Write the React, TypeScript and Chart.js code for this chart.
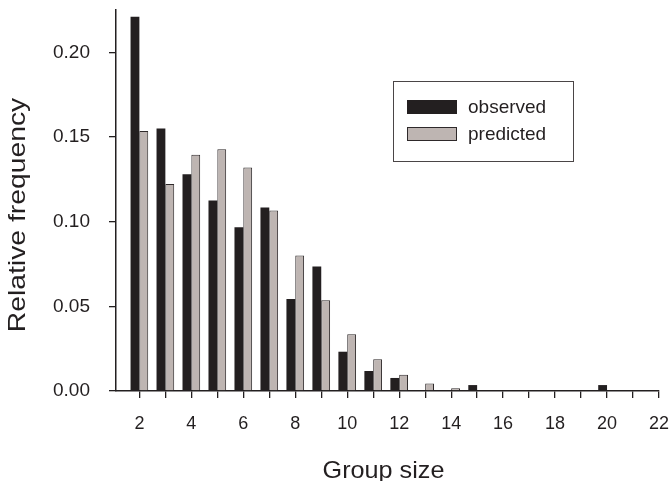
import React, { useEffect, useRef } from "react";
import { Chart, registerables } from "chart.js";

Chart.register(...registerables);

const groupSizes = [2, 3, 4, 5, 6, 7, 8, 9, 10, 11, 12, 13, 14, 15, 20];
const observed = [0.221, 0.155, 0.128, 0.1125, 0.0967, 0.1083, 0.0544, 0.0735, 0.0232, 0.0118, 0.0077, 0, 0, 0.0035, 0.0035];
const predicted = [0.1535, 0.1222, 0.1395, 0.1428, 0.132, 0.1066, 0.08, 0.0536, 0.0335, 0.0187, 0.0096, 0.0045, 0.0016, 0.0006, null];
const xTicks = [2, 3, 4, 5, 6, 7, 8, 9, 10, 11, 12, 13, 14, 15, 16, 17, 18, 19, 20, 21, 22];
const yTicks = [0, 0.05, 0.1, 0.15, 0.2];
const xAxisTitle = "Group size";
const yAxisTitle = "Relative frequency";
const seriesNames = ["observed", "predicted"];

const INK = "#231f20";
const OBS_FILL = "#231f20";
const PRED_FILL = "#beb5b2";
const PRED_BORDER = "#2e292a";
const FONT = "'Liberation Sans', Arial, sans-serif";

const decorPlugin = {
  id: "decor",
  afterDraw(chart: any) {
    const ctx = chart.ctx as CanvasRenderingContext2D;
    const area = chart.chartArea;
    ctx.save();
    ctx.fillStyle = INK;
    // axis titles
    ctx.font = `24px ${FONT}`;
    ctx.textAlign = "center";
    ctx.textBaseline = "alphabetic";
    ctx.save();
    ctx.translate((area.left + area.right) / 2 - 4, 478);
    ctx.scale(1.05, 1);
    ctx.fillText(xAxisTitle, 0, 0);
    ctx.restore();
    ctx.save();
    ctx.translate(25, 215);
    ctx.rotate(-Math.PI / 2);
    ctx.scale(1.18, 1);
    ctx.fillText(yAxisTitle, 0, 0);
    ctx.restore();

    // legend box
    const bx = 393, by = 81, bw = 180, bh = 80;
    ctx.strokeStyle = "#4a4546";
    ctx.lineWidth = 1;
    ctx.strokeRect(bx + 0.5, by + 0.5, bw, bh);
    const fills = [OBS_FILL, PRED_FILL];
    const borders = [OBS_FILL, PRED_BORDER];
    ctx.font = `19px ${FONT}`;
    ctx.textAlign = "left";
    ctx.textBaseline = "middle";
    seriesNames.forEach((name, i) => {
      const ry = 100 + i * 27;
      ctx.fillStyle = fills[i];
      ctx.fillRect(407, ry, 50, 14);
      ctx.strokeStyle = borders[i];
      ctx.strokeRect(407.5, ry + 0.5, 49, 13);
      ctx.fillStyle = INK;
      ctx.fillText(name, 468, ry + 8);
    });
    ctx.restore();
  },
};

export default function App() {
  const ref = useRef<HTMLCanvasElement>(null);
  useEffect(() => {
    document.body.style.margin = "0";
    document.body.style.overflow = "hidden";
    const canvas = ref.current!;
    const chart = new Chart(canvas, {
      type: "bar",
      data: {
        datasets: [
          {
            label: seriesNames[0],
            data: groupSizes.map((g, i) => ({ x: g, y: observed[i] })) as any,
            backgroundColor: OBS_FILL,
            borderColor: OBS_FILL,
            borderWidth: 0,
            categoryPercentage: 0.68,
            barPercentage: 1,
          },
          {
            label: seriesNames[1],
            data: groupSizes.map((g, i) => ({ x: g, y: predicted[i] })) as any,
            backgroundColor: PRED_FILL,
            borderColor: PRED_BORDER,
            borderWidth: 1,
            borderSkipped: "bottom",
            categoryPercentage: 0.68,
            barPercentage: 1,
          },
        ],
      },
      options: {
        responsive: false,
        animation: false,
        events: [],
        layout: { padding: { top: 10, right: 13, left: 0, bottom: 0 } },
        plugins: {
          legend: { display: false },
          tooltip: { enabled: false },
        },
        scales: {
          x: {
            type: "linear",
            min: 1.1,
            max: 22,
            offset: false,
            afterFit: (s: any) => {
              s.height = 90;
              s.paddingLeft = 0;
              s.paddingRight = 0;
            },
            afterBuildTicks: (s: any) => {
              s.ticks = xTicks.map((v) => ({ value: v }));
            },
            ticks: {
              stepSize: 1,
              includeBounds: false,
              autoSkip: false,
              maxRotation: 0,
              padding: 15,
              color: INK,
              font: { family: FONT, size: 18 },
              callback: (v: any) => (Number(v) % 2 === 0 ? String(v) : ""),
            },
            grid: {
              offset: false,
              drawOnChartArea: false,
              drawTicks: true,
              tickLength: 7,
              color: INK,
              lineWidth: 1.3,
            },
            border: { display: true, color: INK, width: 1.5 },
          },
          y: {
            min: 0,
            max: 0.225,
            afterFit: (s: any) => {
              s.width = 116;
              s.paddingTop = 0;
              s.paddingBottom = 0;
            },
            afterBuildTicks: (s: any) => {
              s.ticks = yTicks.map((v) => ({ value: v }));
            },
            ticks: {
              padding: 19,
              color: INK,
              font: { family: FONT, size: 19 },
              callback: (v: any) => Number(v).toFixed(2),
            },
            grid: {
              drawOnChartArea: false,
              drawTicks: true,
              tickLength: 7,
              color: INK,
              lineWidth: 1.3,
            },
            border: { display: true, color: INK, width: 1.5 },
          },
        },
      },
      plugins: [decorPlugin],
    });
    return () => chart.destroy();
  }, []);
  return (
    <div style={{ width: 672, height: 481, background: "#fff" }}>
      <canvas ref={ref} width={672} height={481} />
    </div>
  );
}
